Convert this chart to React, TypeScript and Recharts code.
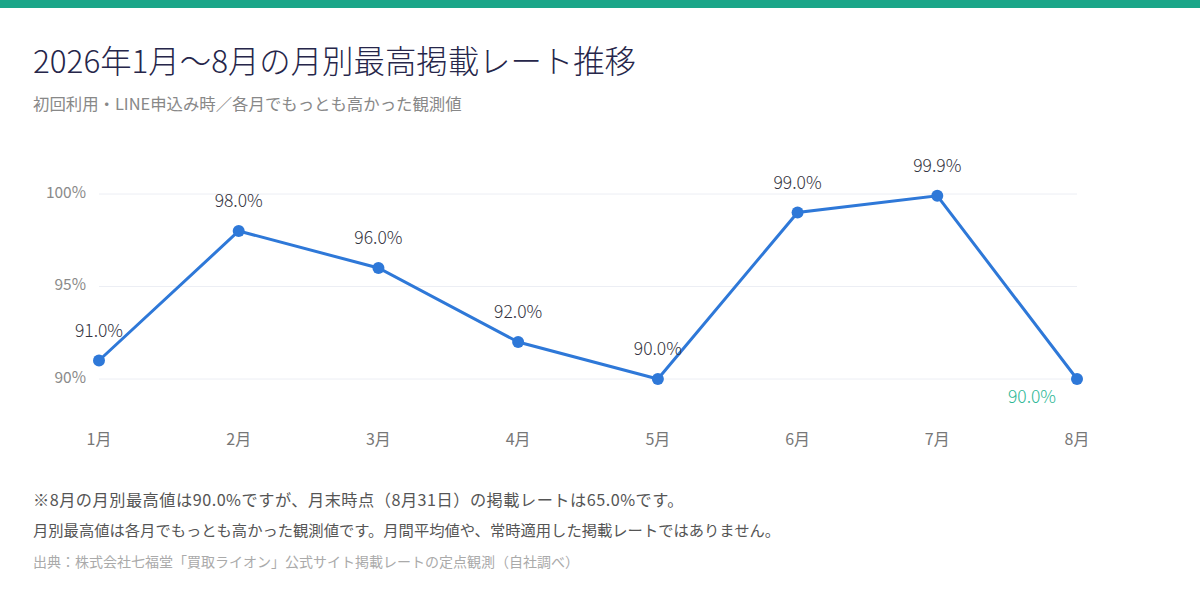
import React from "react";
import { LineChart, Line, XAxis, YAxis, CartesianGrid, LabelList } from "recharts";

const months = ["1月", "2月", "3月", "4月", "5月", "6月", "7月", "8月"];
const maxRates = [91.0, 98.0, 96.0, 92.0, 90.0, 99.0, 99.9, 90.0];
const yTicks = [90, 95, 100];

const FONT = '"Noto Sans CJK JP", "Noto Sans", sans-serif';
const LINE_BLUE = "#2e78d8";
const TEAL = "#2db795";

const data = months.map((month, i) => ({ month, rate: maxRates[i] }));

// last point's label sits below-left, in teal
function RateLabel(props: any) {
  const { x, y, value, index } = props;
  const last = index === months.length - 1;
  return (
    <text
      x={last ? x - 45 : x}
      y={last ? y + 24 : y - 24}
      textAnchor="middle"
      fontSize={17.5}
      fontWeight={300}
      fontFamily={FONT}
      fill={last ? TEAL : "#333340"}
    >
      {`${Number(value).toFixed(1)}%`}
    </text>
  );
}

export default function App() {
  return (
    <div
      style={{
        position: "absolute",
        left: 0,
        top: 0,
        width: 1200,
        height: 610,
        background: "#ffffff",
        fontFamily: FONT,
        overflow: "hidden",
      }}
    >
      <div style={{ position: "absolute", left: 0, top: 0, width: 1200, height: 8, background: "#1ba689" }} />
      <div
        style={{
          position: "absolute",
          left: 33,
          top: 37,
          fontSize: 31.4,
          fontWeight: 300,
          lineHeight: "46px",
          color: "#26264a",
          whiteSpace: "nowrap",
        }}
      >
        2026年1月〜8月の月別最高掲載レート推移
      </div>
      <div
        style={{
          position: "absolute",
          left: 33,
          top: 91,
          fontSize: 16.4,
          lineHeight: "24px",
          color: "#888888",
          whiteSpace: "nowrap",
        }}
      >
        初回利用・LINE申込み時／各月でもっとも高かった観測値
      </div>

      <div style={{ position: "absolute", left: 0, top: 0 }}>
        <LineChart
          width={1200}
          height={460}
          data={data}
          margin={{ top: 157, right: 123, bottom: 14, left: 39 }}
        >
          <CartesianGrid vertical={false} horizontalValues={yTicks} stroke="#eceef4" />
          <XAxis
            dataKey="month"
            axisLine={false}
            tickLine={false}
            tickSize={0}
            tickMargin={18}
            interval={0}
            tick={{ fontSize: 16, fill: "#777777", fontFamily: FONT }}
          />
          <YAxis
            width={60}
            domain={[88, 102]}
            ticks={yTicks}
            axisLine={false}
            tickLine={false}
            tickSize={0}
            tickMargin={13}
            tickFormatter={(v) => `${v}%`}
            tick={{ fontSize: 15.5, fill: "#8a8a8a", fontFamily: FONT, dy: -2 }}
          />
          <Line
            type="linear"
            dataKey="rate"
            stroke={LINE_BLUE}
            strokeWidth={3}
            dot={{ r: 6, fill: LINE_BLUE, stroke: LINE_BLUE, strokeWidth: 0 }}
            activeDot={false}
            isAnimationActive={false}
          >
            <LabelList dataKey="rate" content={<RateLabel />} />
          </Line>
        </LineChart>
      </div>

      <div
        style={{
          position: "absolute",
          left: 33,
          top: 487,
          fontSize: 16.2,
          letterSpacing: 0.5,
          lineHeight: "24px",
          color: "#555555",
          whiteSpace: "nowrap",
        }}
      >
        ※8月の月別最高値は90.0%ですが、月末時点（8月31日）の掲載レートは65.0%です。
      </div>
      <div
        style={{
          position: "absolute",
          left: 33,
          top: 517,
          fontSize: 15.3,
          lineHeight: "24px",
          color: "#555555",
          whiteSpace: "nowrap",
        }}
      >
        月別最高値は各月でもっとも高かった観測値です。月間平均値や、常時適用した掲載レートではありません。
      </div>
      <div
        style={{
          position: "absolute",
          left: 33,
          top: 550,
          fontSize: 14,
          lineHeight: "22px",
          color: "#aaaaaa",
          whiteSpace: "nowrap",
        }}
      >
        出典：株式会社七福堂「買取ライオン」公式サイト掲載レートの定点観測（自社調べ）
      </div>
    </div>
  );
}
